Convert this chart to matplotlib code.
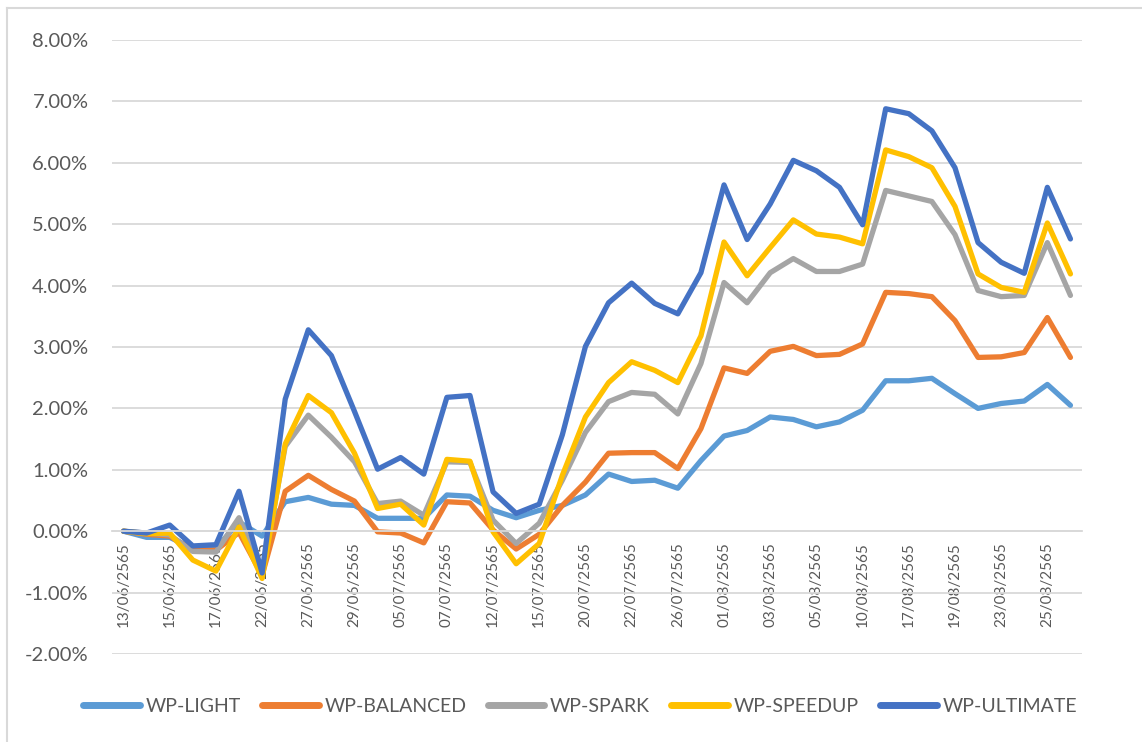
import matplotlib
matplotlib.use("Agg")
import matplotlib.pyplot as plt
from matplotlib.ticker import FuncFormatter
from matplotlib.lines import Line2D

# ---- data (percent return) ----
dates = ["13/06/2565", "14/06/2565", "15/06/2565", "16/06/2565", "17/06/2565",
         "21/06/2565", "22/06/2565", "24/06/2565", "27/06/2565", "28/06/2565",
         "29/06/2565", "30/06/2565", "05/07/2565", "06/07/2565", "07/07/2565",
         "08/07/2565", "12/07/2565", "14/07/2565", "15/07/2565", "19/07/2565",
         "20/07/2565", "21/07/2565", "22/07/2565", "25/07/2565", "26/07/2565",
         "29/07/2565", "01/08/2565", "02/08/2565", "03/08/2565", "04/08/2565",
         "05/08/2565", "09/08/2565", "10/08/2565", "16/08/2565", "17/08/2565",
         "18/08/2565", "19/08/2565", "22/08/2565", "23/08/2565", "24/08/2565",
         "25/08/2565", "26/08/2565"]

wp_light = [0.0, -0.10, -0.10, -0.28, -0.28, 0.15, -0.08, 0.48, 0.55, 0.44,
            0.42, 0.21, 0.21, 0.21, 0.59, 0.57, 0.34, 0.22, 0.34, 0.42,
            0.59, 0.93, 0.81, 0.83, 0.70, 1.15, 1.55, 1.64, 1.86, 1.82,
            1.70, 1.78, 1.97, 2.45, 2.45, 2.49, 2.24, 2.00, 2.08, 2.12,
            2.39, 2.05]
wp_balanced = [0.0, -0.05, -0.08, -0.31, -0.31, -0.02, -0.72, 0.65, 0.91, 0.68,
               0.49, -0.01, -0.03, -0.19, 0.48, 0.46, 0.02, -0.29, -0.05, 0.42,
               0.80, 1.27, 1.28, 1.28, 1.02, 1.67, 2.66, 2.57, 2.93, 3.01,
               2.86, 2.88, 3.05, 3.89, 3.87, 3.82, 3.43, 2.83, 2.84, 2.91,
               3.48, 2.83]
wp_spark = [0.0, -0.03, -0.06, -0.33, -0.34, 0.22, -0.70, 1.38, 1.89, 1.53,
            1.13, 0.45, 0.49, 0.26, 1.13, 1.12, 0.18, -0.20, 0.13, 0.83,
            1.61, 2.11, 2.26, 2.23, 1.91, 2.73, 4.05, 3.72, 4.21, 4.44,
            4.23, 4.23, 4.35, 5.55, 5.46, 5.37, 4.83, 3.92, 3.82, 3.84,
            4.70, 3.84]
wp_speedup = [0.0, -0.04, -0.03, -0.47, -0.65, 0.07, -0.77, 1.42, 2.21, 1.93,
              1.27, 0.37, 0.44, 0.10, 1.17, 1.14, -0.01, -0.53, -0.20, 0.91,
              1.86, 2.42, 2.76, 2.62, 2.42, 3.18, 4.71, 4.16, 4.62, 5.07,
              4.84, 4.79, 4.68, 6.21, 6.10, 5.92, 5.29, 4.19, 3.97, 3.89,
              5.02, 4.19]
wp_ultimate = [0.0, -0.03, 0.10, -0.24, -0.22, 0.65, -0.68, 2.15, 3.28, 2.86,
               1.95, 1.01, 1.20, 0.93, 2.18, 2.21, 0.64, 0.29, 0.44, 1.57,
               3.01, 3.72, 4.04, 3.71, 3.54, 4.21, 5.64, 4.75, 5.33, 6.04,
               5.87, 5.60, 4.99, 6.88, 6.80, 6.52, 5.92, 4.70, 4.38, 4.20,
               5.60, 4.76]

series = [("WP-LIGHT", wp_light, "#5B9BD5"),
          ("WP-BALANCED", wp_balanced, "#ED7D31"),
          ("WP-SPARK", wp_spark, "#A5A5A5"),
          ("WP-SPEEDUP", wp_speedup, "#FFC000"),
          ("WP-ULTIMATE", wp_ultimate, "#4472C4")]

plt.rcParams['font.family'] = ['Lato', 'DejaVu Sans']
txt = "#595959"
grid = "#d9d9d9"

fig = plt.figure(figsize=(11.42, 7.42), dpi=100)
ax = fig.add_axes((112 / 1142, 1 - 654 / 742, 970 / 1142, 614 / 742))

x = list(range(len(dates)))
for name, vals, col in series:
    ax.plot(x, vals, color=col, lw=3.8, label=name, solid_joinstyle='round',
            solid_capstyle='round')

# category axis sits on the zero line (must be set before ticks)
ax.spines['bottom'].set_position(('data', 0))
ax.spines['bottom'].set_color(grid)
ax.spines['bottom'].set_linewidth(1.3)
for s in ['top', 'right', 'left']:
    ax.spines[s].set_visible(False)

ax.set_xlim(-0.5, len(dates) - 0.5)
ax.set_ylim(-2, 8)
ax.set_yticks(range(-2, 9))
ax.yaxis.set_major_formatter(FuncFormatter(lambda v, p: "{:.2f}%".format(v)))
ax.grid(axis='y', color=grid, lw=1.3)
ax.set_axisbelow(True)

ax.set_xticks(x[::2])
ax.set_xticklabels(dates[::2], rotation=90, va='top', ha='center')

ax.tick_params(axis='y', length=0, pad=17, labelsize=14.5, labelcolor=txt)
ax.tick_params(axis='x', length=0, pad=8, labelsize=11, labelcolor=txt)

fig.legend(loc='center', bbox_to_anchor=(0.508, 1 - 706 / 742), ncol=5,
           frameon=False, fontsize=14, handlelength=2.9, handletextpad=0.3,
           columnspacing=1.1, labelcolor=txt)
for h in fig.legends[0].get_lines():
    h.set_linewidth(5)

# outer chart border
fig.add_artist(Line2D([7 / 1142, 7 / 1142], [0, 1 - 8 / 742], color=grid,
                      lw=1.5, transform=fig.transFigure))
fig.add_artist(Line2D([7 / 1142, 1], [1 - 8 / 742, 1 - 8 / 742], color=grid,
                      lw=1.5, transform=fig.transFigure))

fig.savefig("out.png", dpi=100)
